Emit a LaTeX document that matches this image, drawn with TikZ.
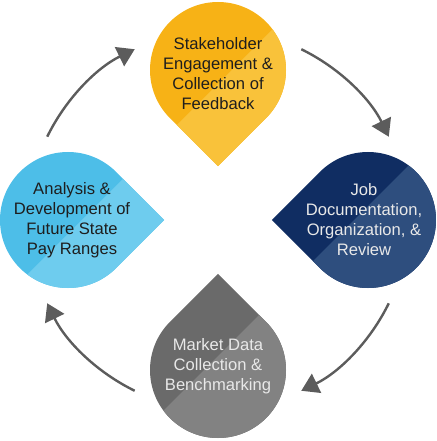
\documentclass[tikz,border=0pt]{standalone}
\usepackage{fontspec}
\setmainfont{Liberation Sans}
\usepackage{xcolor}
\usetikzlibrary{arrows.meta,calc}
\definecolor{gold}{RGB}{247,178,22}
\definecolor{goldlt}{RGB}{249,194,58}
\definecolor{navy}{RGB}{16,45,98}
\definecolor{navylt}{RGB}{46,78,126}
\definecolor{slate}{RGB}{106,106,106}
\definecolor{slatelt}{RGB}{130,130,130}
\definecolor{sky}{RGB}{77,190,232}
\definecolor{skylt}{RGB}{110,204,238}
\definecolor{arrowgray}{RGB}{92,92,92}
\definecolor{darktxt}{RGB}{30,30,30}
\definecolor{lighttxt}{RGB}{232,232,232}

\tikzset{
  droptext/.style={align=center,font=\fontsize{16.6}{20}\selectfont},
  cyclearrow/.style={draw=arrowgray,line width=2.4pt,-{Triangle[length=17pt,width=21pt]}},
}

\begin{document}
\begin{tikzpicture}[x=1pt,y=1pt]
  \useasboundingbox (-218,-221) rectangle (218,220);
  \def\rr{68}   % drop radius
  \def\dd{150}  % cycle centre -> drop centre
  \def\ra{190}  % radius of the arrows
  % drops: top, right, bottom, left; \tip = where the point of the drop looks
  \foreach \nm/\pos/\tip/\dc/\lc/\tc/\txt in {
      stake/90/-90/gold/goldlt/darktxt/{Stakeholder\\Engagement \&\\Collection of\\Feedback},
      job/0/180/navy/navylt/lighttxt/{Job\\Documentation,\\Organization, \&\\Review},
      market/-90/90/slate/slatelt/lighttxt/{Market Data\\Collection \&\\Benchmarking},
      pay/180/0/sky/skylt/darktxt/{Analysis \&\\Development of\\Future State\\Pay Ranges}}{
    \coordinate (\nm c) at (\pos:\dd);
    \coordinate (\nm m) at ($(\nm c)+(\tip:14)$);
    \begin{scope}
      \clip[shift={(\nm c)},rotate=\tip] (0:{\rr*sqrt(2)}) -- (45:\rr)
        arc[start angle=45,end angle=315,radius=\rr] -- cycle;
      \fill[\dc] (\nm c) circle (110);
      % lighter lower-right part
      \fill[\lc,shift={(\nm m)}] (-130,-130) -- (130,130) -- (130,-130) -- cycle;
    \end{scope}
    \node[droptext,text=\tc] (\nm) at ($(\nm c)+(\tip:4)$) {\txt};
  }
  % arrows round the cycle, clockwise
  \foreach \a [count=\i] in {154,64,-26,-116}{
    \coordinate (arr\i) at (\a:\ra);
    \draw[cyclearrow] (arr\i) arc[start angle=\a,end angle=\a-38,radius=\ra];
  }
\end{tikzpicture}
\end{document}
